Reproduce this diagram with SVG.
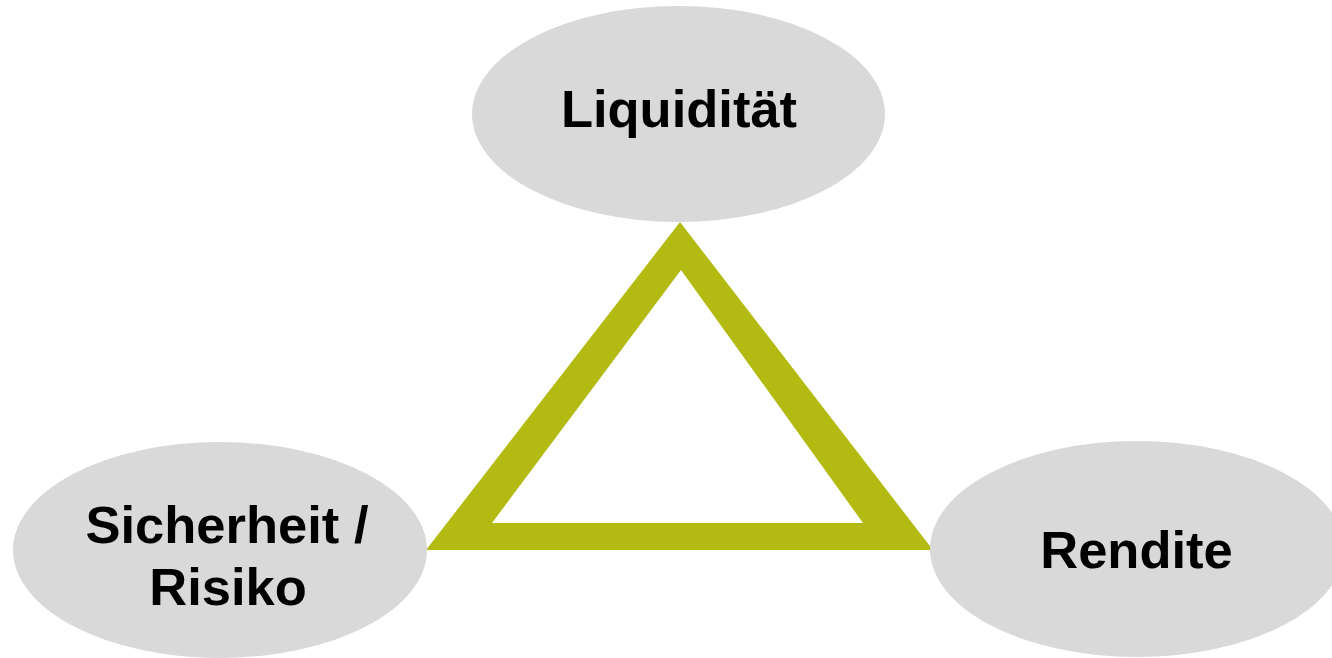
<svg xmlns="http://www.w3.org/2000/svg" width="1332" height="658" viewBox="0 0 1332 658">
<style>
.node{fill:#d9d9d9}
.lbl{font-family:"Liberation Sans",Arial,sans-serif;font-weight:bold;font-size:52.5px;fill:#000;text-anchor:middle}
.tri{fill:#b3bb12;fill-rule:evenodd}
</style>
<rect width="1332" height="658" fill="#fff"/>
<g id="connectors">
<path class="tri" d="M680,222 L933,550 L426,550 Z M681,270 L492,523 L863,523 Z"/>
</g>
<g id="liquiditaet">
<ellipse class="node" cx="678.5" cy="114" rx="206.5" ry="108"/>
<text class="lbl" x="679" y="127">Liquidität</text>
</g>
<g id="sicherheit">
<ellipse class="node" cx="220" cy="550" rx="207" ry="108"/>
<text class="lbl" x="227" y="543">Sicherheit /</text>
<text class="lbl" x="228" y="605">Risiko</text>
</g>
<g id="rendite">
<ellipse class="node" cx="1137" cy="549" rx="207" ry="108"/>
<text class="lbl" x="1136.5" y="568">Rendite</text>
</g>
</svg>
